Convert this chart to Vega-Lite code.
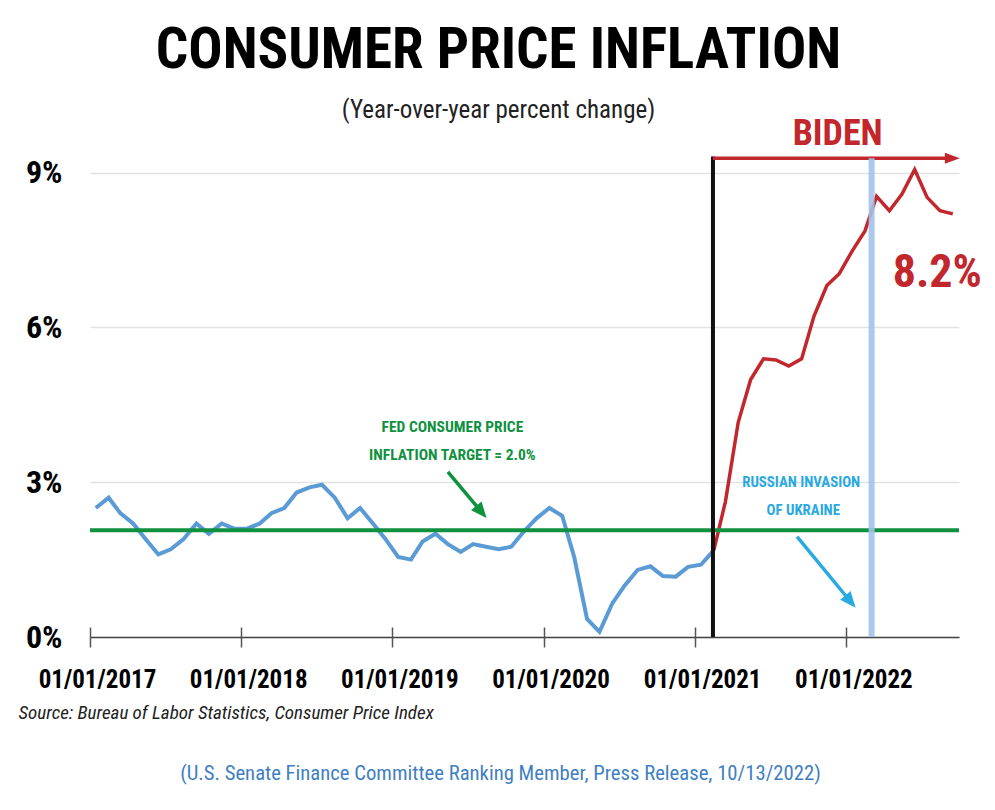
{
  "$schema": "https://vega.github.io/schema/vega-lite/v6.json",
  "width": 869,
  "height": 516,
  "autosize": "none",
  "padding": {"left": 90, "top": 121, "right": 36, "bottom": 173},
  "background": "white",
  "config": {"view": {"stroke": null}, "font": "Roboto Condensed"},
  "title": {
    "text": "CONSUMER PRICE INFLATION",
    "subtitle": "(Year-over-year percent change)",
    "anchor": "middle",
    "dx": -26,
    "dy": 12,
    "font": "Roboto Condensed",
    "fontSize": 57,
    "fontWeight": "bold",
    "color": "#000000",
    "subtitleFont": "Roboto Condensed",
    "subtitleFontSize": 25,
    "subtitleColor": "#222222",
    "subtitlePadding": 18
  },
  "datasets": {
    "cpi": [
      {"date": "2017-01-15", "cpi": 2.5, "period": "before"},
      {"date": "2017-02-15", "cpi": 2.7, "period": "before"},
      {"date": "2017-03-15", "cpi": 2.4, "period": "before"},
      {"date": "2017-04-15", "cpi": 2.2, "period": "before"},
      {"date": "2017-05-15", "cpi": 1.9, "period": "before"},
      {"date": "2017-06-15", "cpi": 1.6, "period": "before"},
      {"date": "2017-07-15", "cpi": 1.7, "period": "before"},
      {"date": "2017-08-15", "cpi": 1.9, "period": "before"},
      {"date": "2017-09-15", "cpi": 2.2, "period": "before"},
      {"date": "2017-10-15", "cpi": 2.0, "period": "before"},
      {"date": "2017-11-15", "cpi": 2.2, "period": "before"},
      {"date": "2017-12-15", "cpi": 2.1, "period": "before"},
      {"date": "2018-01-15", "cpi": 2.1, "period": "before"},
      {"date": "2018-02-15", "cpi": 2.2, "period": "before"},
      {"date": "2018-03-15", "cpi": 2.4, "period": "before"},
      {"date": "2018-04-15", "cpi": 2.5, "period": "before"},
      {"date": "2018-05-15", "cpi": 2.8, "period": "before"},
      {"date": "2018-06-15", "cpi": 2.9, "period": "before"},
      {"date": "2018-07-15", "cpi": 2.95, "period": "before"},
      {"date": "2018-08-15", "cpi": 2.7, "period": "before"},
      {"date": "2018-09-15", "cpi": 2.3, "period": "before"},
      {"date": "2018-10-15", "cpi": 2.5, "period": "before"},
      {"date": "2018-11-15", "cpi": 2.2, "period": "before"},
      {"date": "2018-12-15", "cpi": 1.9, "period": "before"},
      {"date": "2019-01-15", "cpi": 1.55, "period": "before"},
      {"date": "2019-02-15", "cpi": 1.5, "period": "before"},
      {"date": "2019-03-15", "cpi": 1.85, "period": "before"},
      {"date": "2019-04-15", "cpi": 2.0, "period": "before"},
      {"date": "2019-05-15", "cpi": 1.8, "period": "before"},
      {"date": "2019-06-15", "cpi": 1.65, "period": "before"},
      {"date": "2019-07-15", "cpi": 1.8, "period": "before"},
      {"date": "2019-08-15", "cpi": 1.75, "period": "before"},
      {"date": "2019-09-15", "cpi": 1.7, "period": "before"},
      {"date": "2019-10-15", "cpi": 1.75, "period": "before"},
      {"date": "2019-11-15", "cpi": 2.05, "period": "before"},
      {"date": "2019-12-15", "cpi": 2.3, "period": "before"},
      {"date": "2020-01-15", "cpi": 2.5, "period": "before"},
      {"date": "2020-02-15", "cpi": 2.35, "period": "before"},
      {"date": "2020-03-15", "cpi": 1.55, "period": "before"},
      {"date": "2020-04-15", "cpi": 0.35, "period": "before"},
      {"date": "2020-05-15", "cpi": 0.1, "period": "before"},
      {"date": "2020-06-15", "cpi": 0.65, "period": "before"},
      {"date": "2020-07-15", "cpi": 1.0, "period": "before"},
      {"date": "2020-08-15", "cpi": 1.3, "period": "before"},
      {"date": "2020-09-15", "cpi": 1.37, "period": "before"},
      {"date": "2020-10-15", "cpi": 1.18, "period": "before"},
      {"date": "2020-11-15", "cpi": 1.17, "period": "before"},
      {"date": "2020-12-15", "cpi": 1.36, "period": "before"},
      {"date": "2021-01-15", "cpi": 1.4, "period": "before"},
      {"date": "2021-02-15", "cpi": 1.68, "period": "before"},
      {"date": "2021-02-15", "cpi": 1.68, "period": "biden"},
      {"date": "2021-03-15", "cpi": 2.62, "period": "biden"},
      {"date": "2021-04-15", "cpi": 4.16, "period": "biden"},
      {"date": "2021-05-15", "cpi": 4.99, "period": "biden"},
      {"date": "2021-06-15", "cpi": 5.39, "period": "biden"},
      {"date": "2021-07-15", "cpi": 5.37, "period": "biden"},
      {"date": "2021-08-15", "cpi": 5.25, "period": "biden"},
      {"date": "2021-09-15", "cpi": 5.39, "period": "biden"},
      {"date": "2021-10-15", "cpi": 6.22, "period": "biden"},
      {"date": "2021-11-15", "cpi": 6.81, "period": "biden"},
      {"date": "2021-12-15", "cpi": 7.04, "period": "biden"},
      {"date": "2022-01-15", "cpi": 7.48, "period": "biden"},
      {"date": "2022-02-15", "cpi": 7.87, "period": "biden"},
      {"date": "2022-03-15", "cpi": 8.54, "period": "biden"},
      {"date": "2022-04-15", "cpi": 8.26, "period": "biden"},
      {"date": "2022-05-15", "cpi": 8.58, "period": "biden"},
      {"date": "2022-06-15", "cpi": 9.06, "period": "biden"},
      {"date": "2022-07-15", "cpi": 8.52, "period": "biden"},
      {"date": "2022-08-15", "cpi": 8.26, "period": "biden"},
      {"date": "2022-09-15", "cpi": 8.2, "period": "biden"}
    ],
    "target": [{"target": 2.07}],
    "events": [
      {"event": "Biden", "date": "2021-02-13", "low": 0, "high": 9.31},
      {"event": "Invasion", "date": "2022-03-03", "low": 0, "high": 9.28}
    ],
    "bidenArrow": [{"start": "2021-02-13", "end": "2022-09-08", "level": 9.28, "head": "2022-09-14"}],
    "arrows": [
      {"arrow": "fed", "date": "2019-05-15", "value": 3.198},
      {"arrow": "fed", "date": "2019-08-01", "value": 2.453},
      {"arrow": "war", "date": "2021-09-04", "value": 1.944},
      {"arrow": "war", "date": "2022-01-08", "value": 0.717}
    ],
    "heads": [
      {"arrow": "fed", "date": "2019-08-04", "value": 2.424},
      {"arrow": "war", "date": "2022-01-11", "value": 0.688}
    ],
    "notes": [
      {"note": "biden", "date": "2021-12-11", "value": 9.535, "label": "BIDEN"},
      {"note": "latest", "date": "2022-04-23", "value": 6.783, "label": "8.2%"},
      {"note": "fed", "date": "2019-05-26", "value": 3.973, "label": "FED CONSUMER PRICE"},
      {"note": "fed", "date": "2019-05-26", "value": 3.43, "label": "INFLATION TARGET = 2.0%"},
      {"note": "war", "date": "2021-09-14", "value": 2.907, "label": "RUSSIAN INVASION"},
      {"note": "war", "date": "2021-09-19", "value": 2.364, "label": "OF UKRAINE"}
    ]
  },
  "resolve": {"axis": {"x": "independent"}},
  "layer": [
    {
      "layer": [
        {
          "data": {"name": "cpi"},
          "transform": [{"filter": "datum.period === 'before'"}],
          "mark": {"type": "line", "color": "#5b9bd5", "strokeWidth": 4},
          "encoding": {
            "x": {
              "field": "date", "type": "temporal",
              "scale": {"domain": [{"year": 2017, "month": 1, "date": 1}, {"year": 2022, "month": 9, "date": 30}]},
              "axis": {
                "values": [
                  {"year": 2017, "month": 1, "date": 1},
                  {"year": 2018, "month": 1, "date": 1},
                  {"year": 2019, "month": 1, "date": 1},
                  {"year": 2020, "month": 1, "date": 1},
                  {"year": 2021, "month": 1, "date": 1},
                  {"year": 2022, "month": 1, "date": 1}
                ],
                "format": "%m/%d/%Y",
                "grid": false,
                "domainColor": "#444444",
                "domainWidth": 1.5,
                "tickSize": 10,
                "tickColor": "#555555",
                "tickWidth": 1.5,
                "labelFont": "Roboto Condensed",
                "labelFontSize": 25,
                "labelFontWeight": "bold",
                "labelColor": "#000000",
                "labelPadding": 20,
                "labelOffset": 7,
                "labelFlush": false,
                "labelOverlap": false,
                "title": "Source: Bureau of Labor Statistics, Consumer Price Index",
                "titleX": -72,
                "titleY": 81,
                "titleAnchor": "start",
                "titleAlign": "left",
                "titleBaseline": "alphabetic",
                "titleFont": "Roboto Condensed",
                "titleFontStyle": "italic",
                "titleFontWeight": "normal",
                "titleFontSize": 19,
                "titleColor": "#222222"
              }
            },
            "y": {
              "field": "cpi", "type": "quantitative",
              "scale": {"domain": [0, 10]},
              "axis": {
                "values": [0, 3, 6, 9],
                "labelExpr": "datum.value + '%'",
                "domain": false,
                "ticks": false,
                "grid": true,
                "gridColor": "#e2e2e2",
                "gridWidth": 1.5,
                "labelFont": "Roboto Condensed",
                "labelFontSize": 32,
                "labelFontWeight": "bold",
                "labelColor": "#000000",
                "labelPadding": 28,
                "title": "(U.S. Senate Finance Committee Ranking Member, Press Release, 10/13/2022)",
                "titleAngle": 0,
                "titleX": 410,
                "titleY": 658,
                "titleAlign": "center",
                "titleBaseline": "alphabetic",
                "titleFont": "Roboto Condensed",
                "titleFontWeight": "normal",
                "titleFontSize": 20.7,
                "titleColor": "#3f7fc1"
              }
            }
          }
        },
        {
          "data": {"name": "cpi"},
          "transform": [{"filter": "datum.period === 'biden'"}],
          "mark": {"type": "line", "color": "#c1272d", "strokeWidth": 3.5},
          "encoding": {
            "x": {"field": "date", "type": "temporal"},
            "y": {"field": "cpi", "type": "quantitative"}
          }
        },
        {
          "data": {"name": "target"},
          "mark": {"type": "rule", "color": "#10913f", "strokeWidth": 4},
          "encoding": {"y": {"field": "target", "type": "quantitative"}}
        },
        {
          "data": {"name": "events"},
          "transform": [{"filter": "datum.event === 'Biden'"}],
          "mark": {"type": "rule", "color": "#111111", "strokeWidth": 4},
          "encoding": {
            "x": {"field": "date", "type": "temporal"},
            "y": {"field": "low", "type": "quantitative"},
            "y2": {"field": "high"}
          }
        },
        {
          "data": {"name": "bidenArrow"},
          "mark": {"type": "rule", "color": "#c1272d", "strokeWidth": 3.5},
          "encoding": {
            "x": {"field": "start", "type": "temporal"},
            "x2": {"field": "end"},
            "y": {"field": "level", "type": "quantitative"}
          }
        },
        {
          "data": {"name": "bidenArrow"},
          "mark": {"type": "point", "shape": "M-1,-0.73L1,0L-1,0.73Z", "filled": true, "color": "#c1272d", "size": 225, "opacity": 1},
          "encoding": {
            "x": {"field": "head", "type": "temporal"},
            "y": {"field": "level", "type": "quantitative"}
          }
        },
        {
          "data": {"name": "events"},
          "transform": [{"filter": "datum.event === 'Invasion'"}],
          "mark": {"type": "rule", "color": "#a4c2e8", "strokeWidth": 6, "opacity": 0.9},
          "encoding": {
            "x": {"field": "date", "type": "temporal"},
            "y": {"field": "low", "type": "quantitative"},
            "y2": {"field": "high"}
          }
        },
        {
          "data": {"name": "arrows"},
          "transform": [{"filter": "datum.arrow === 'fed'"}],
          "mark": {"type": "line", "color": "#10913f", "strokeWidth": 3.5},
          "encoding": {
            "x": {"field": "date", "type": "temporal"},
            "y": {"field": "value", "type": "quantitative"}
          }
        },
        {
          "data": {"name": "arrows"},
          "transform": [{"filter": "datum.arrow === 'war'"}],
          "mark": {"type": "line", "color": "#29a9e1", "strokeWidth": 3.5},
          "encoding": {
            "x": {"field": "date", "type": "temporal"},
            "y": {"field": "value", "type": "quantitative"}
          }
        },
        {
          "data": {"name": "heads"},
          "transform": [{"filter": "datum.arrow === 'fed'"}],
          "mark": {"type": "point", "shape": "M0,-1L0.85,1L-0.85,1Z", "filled": true, "color": "#10913f", "size": 256, "angle": 140, "opacity": 1},
          "encoding": {
            "x": {"field": "date", "type": "temporal"},
            "y": {"field": "value", "type": "quantitative"}
          }
        },
        {
          "data": {"name": "heads"},
          "transform": [{"filter": "datum.arrow === 'war'"}],
          "mark": {"type": "point", "shape": "M0,-1L0.85,1L-0.85,1Z", "filled": true, "color": "#29a9e1", "size": 256, "angle": 140, "opacity": 1},
          "encoding": {
            "x": {"field": "date", "type": "temporal"},
            "y": {"field": "value", "type": "quantitative"}
          }
        },
        {
          "data": {"name": "notes"},
          "transform": [{"filter": "datum.note === 'biden'"}],
          "mark": {"type": "text", "font": "Roboto Condensed", "fontWeight": "bold", "fontSize": 36, "color": "#c1272d", "align": "center", "baseline": "alphabetic"},
          "encoding": {
            "x": {"field": "date", "type": "temporal"},
            "y": {"field": "value", "type": "quantitative"},
            "text": {"field": "label"}
          }
        },
        {
          "data": {"name": "notes"},
          "transform": [{"filter": "datum.note === 'latest'"}],
          "mark": {"type": "text", "font": "Roboto Condensed", "fontWeight": "bold", "fontSize": 46, "color": "#c1272d", "align": "left", "baseline": "alphabetic"},
          "encoding": {
            "x": {"field": "date", "type": "temporal"},
            "y": {"field": "value", "type": "quantitative"},
            "text": {"field": "label"}
          }
        },
        {
          "data": {"name": "notes"},
          "transform": [{"filter": "datum.note === 'fed'"}],
          "mark": {"type": "text", "font": "Roboto Condensed", "fontWeight": "bold", "fontSize": 15.5, "color": "#10913f", "align": "center", "baseline": "alphabetic"},
          "encoding": {
            "x": {"field": "date", "type": "temporal"},
            "y": {"field": "value", "type": "quantitative"},
            "text": {"field": "label"}
          }
        },
        {
          "data": {"name": "notes"},
          "transform": [{"filter": "datum.note === 'war'"}],
          "mark": {"type": "text", "font": "Roboto Condensed", "fontWeight": "bold", "fontSize": 14.8, "color": "#29a9e1", "align": "center", "baseline": "alphabetic"},
          "encoding": {
            "x": {"field": "date", "type": "temporal"},
            "y": {"field": "value", "type": "quantitative"},
            "text": {"field": "label"}
          }
        }
      ]
    },
    {
      "data": {"name": "target"},
      "mark": {"type": "rule", "opacity": 0},
      "encoding": {
        "x": {
          "datum": {"year": 2020, "month": 1, "date": 1}, "type": "temporal",
          "axis": {
            "orient": "bottom",
            "values": [
              {"year": 2017, "month": 1, "date": 1},
              {"year": 2018, "month": 1, "date": 1},
              {"year": 2019, "month": 1, "date": 1},
              {"year": 2020, "month": 1, "date": 1},
              {"year": 2021, "month": 1, "date": 1},
              {"year": 2022, "month": 1, "date": 1}
            ],
            "labels": false,
            "domain": false,
            "grid": false,
            "tickSize": 10,
            "tickColor": "#555555",
            "tickWidth": 1.5,
            "offset": -10,
            "title": null
          }
        }
      }
    }
  ]
}
